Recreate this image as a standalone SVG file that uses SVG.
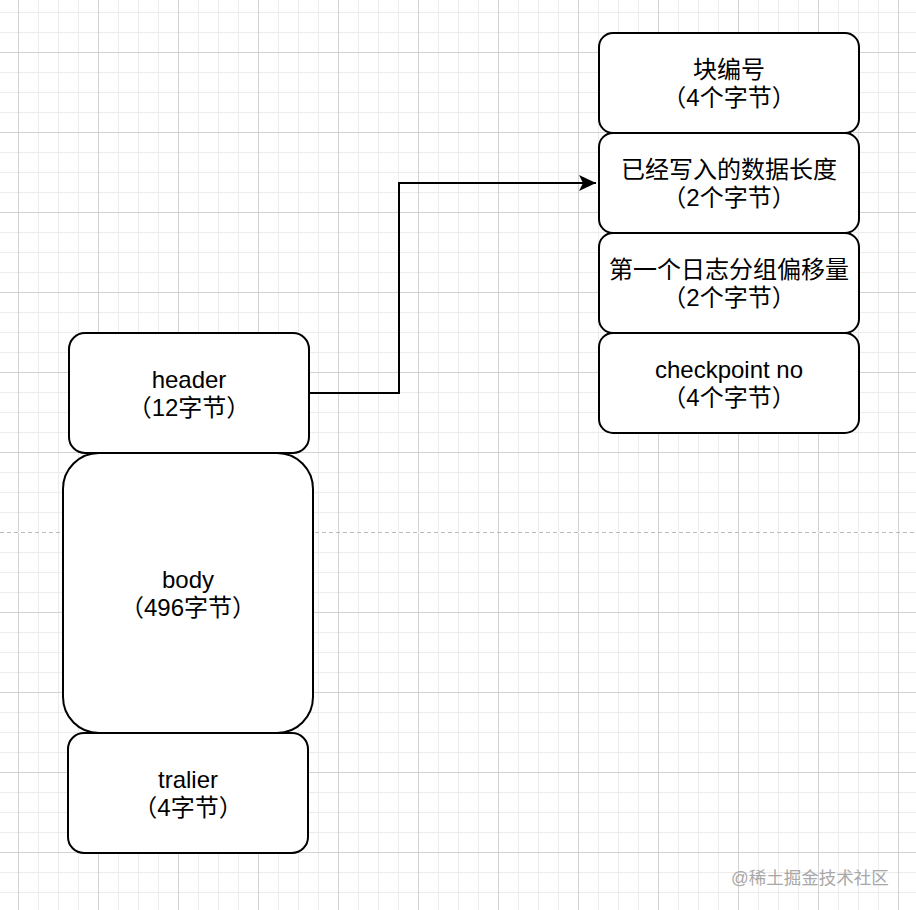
<svg xmlns="http://www.w3.org/2000/svg" width="916" height="910" viewBox="0 0 916 910">
<style>
.box{fill:#fff;stroke:#000;stroke-width:2}
.t{font-family:"Liberation Sans","Noto Sans CJK SC",sans-serif;font-size:24px;fill:#000;text-anchor:middle}
.wm{font-family:"Liberation Sans","Noto Sans CJK SC",sans-serif;font-size:17.5px;fill:#a8a8a8;text-anchor:start}
</style>
<defs>
<pattern id="minor" x="18" y="12" width="20" height="20" patternUnits="userSpaceOnUse">
<path d="M0.5 0V20M0 0.5H20" stroke="#ececec" stroke-width="1" fill="none"/>
</pattern>
<pattern id="major" x="18" y="52" width="80" height="80" patternUnits="userSpaceOnUse">
<path d="M0.5 0V80M0 0.5H80" stroke="#d2d2d2" stroke-width="1" fill="none"/>
</pattern>
<marker id="arrow" markerUnits="userSpaceOnUse" markerWidth="20" markerHeight="20" refX="17" refY="8" orient="auto">
<path d="M0 0L17 8L0 16L4 8Z" fill="#000"/>
</marker>
</defs>
<rect width="916" height="910" fill="#fff"/>
<rect width="916" height="910" fill="url(#minor)"/>
<rect width="916" height="910" fill="url(#major)"/>
<line x1="0" y1="532.5" x2="916" y2="532.5" stroke="#fff" stroke-width="1"/>
<line x1="0" y1="532.5" x2="916" y2="532.5" stroke="#bbbbbb" stroke-width="1" stroke-dasharray="4 3"/>

<g id="connectors">
<path d="M309 393H399V183H596" fill="none" stroke="#000" stroke-width="2" marker-end="url(#arrow)"/>
</g>

<g id="node-header">
<rect class="box" x="69" y="333" width="240" height="120" rx="16" ry="16"/>
<text class="t" x="189" y="388">header</text>
<text class="t" x="189" y="416">（12字节）</text>
</g>
<g id="node-body">
<rect class="box" x="63" y="453" width="250" height="280" rx="36" ry="36"/>
<text class="t" x="188" y="588">body</text>
<text class="t" x="188" y="616">（496字节）</text>
</g>
<g id="node-tralier">
<rect class="box" x="68" y="733" width="240" height="120" rx="16" ry="16"/>
<text class="t" x="188" y="788">tralier</text>
<text class="t" x="188" y="816">（4字节）</text>
</g>

<g id="node-block-no">
<rect class="box" x="599" y="33" width="260" height="100" rx="14" ry="14"/>
<text class="t" x="729" y="78">块编号</text>
<text class="t" x="729" y="106">（4个字节）</text>
</g>
<g id="node-written-len">
<rect class="box" x="599" y="133" width="260" height="100" rx="14" ry="14"/>
<text class="t" x="729" y="178">已经写入的数据长度</text>
<text class="t" x="729" y="206">（2个字节）</text>
</g>
<g id="node-first-group">
<rect class="box" x="599" y="233" width="260" height="100" rx="14" ry="14"/>
<text class="t" x="729" y="278">第一个日志分组偏移量</text>
<text class="t" x="729" y="306">（2个字节）</text>
</g>
<g id="node-checkpoint">
<rect class="box" x="599" y="333" width="260" height="100" rx="14" ry="14"/>
<text class="t" x="729" y="378">checkpoint no</text>
<text class="t" x="729" y="406">（4个字节）</text>
</g>

<text class="wm" x="731" y="884">@稀土掘金技术社区</text>
</svg>
